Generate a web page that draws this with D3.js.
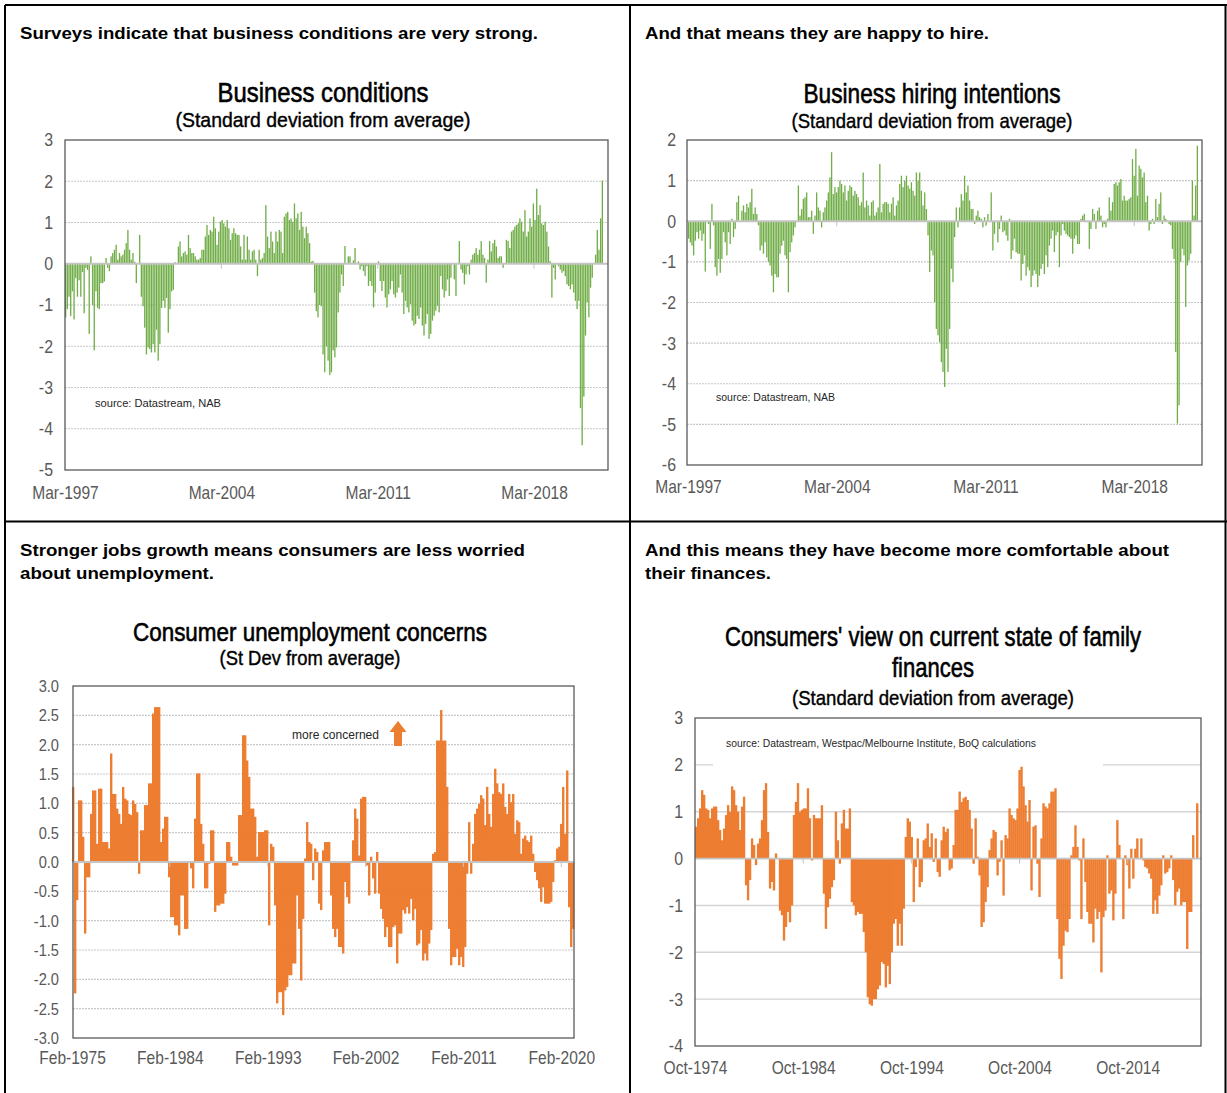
<!DOCTYPE html>
<html>
<head>
<meta charset="utf-8">
<script src="https://cdn.jsdelivr.net/npm/d3@7"></script>
<style>
  body { margin: 0; background: #fff; }
  svg { display: block; font-family: "Liberation Sans", Arial, sans-serif; }
</style>
</head>
<body>
<svg id="chart" width="1227" height="1093"></svg>
<script>
// ---- data (std dev from average) ----

var businessConditions = [
  -1.3, -1.1, -0.8, -1.27, -0.67, -1.35, -0.35, -0.8, -0.4, -0.8, -0.2, -1.2, -0.1, -0.15, -1.7, 0.18, -1.0, -2.1, -0.67, -1.07,
  -1.1, -0.47, -0.47, -0.43, 0.14, -0.1, -0.18, 0.18, 0.26, 0.34, 0.46, 0.1, 0.26, 0.18, 0.22, 0.34, 0.5, 0.82, 0.34, 0.1,
  0.26, 0.05, -0.47, 0, 0.7, -0.8, -1.03, -1.55, -2.2, -2.03, -2.07, -2.15, -1.95, -2.15, -1.6, -2.35, -1.95, -1.07, -0.9, -1.07,
  -0.83, -1.67, -1.1, -0.67, -0.63, 0.04, 0, 0.42, 0.54, 0.18, 0.26, 0.3, 0.22, 0.7, 0.38, 0.26, 0.26, 0.18, 0.1, 0.1,
  0.14, 0.34, 0.34, 0.66, 0.94, 0.7, 0.82, 0.78, 1.14, 0.86, 0.46, 0.78, 1.02, 1.06, 0.98, 0.9, 1.06, 0.86, 0.58, 0.74,
  0.86, 0.74, 0.7, 0.7, 0.42, 0.1, 0.7, 0.1, 0.66, 0.34, 0.1, 0.3, 0.34, 0.1, -0.3, 0.34, 0.1, 0.14, 0.26, 1.42,
  0.66, 0.38, 0.78, 0.54, 0.26, 0.78, 0.54, 0.82, 0.78, 0.26, 1.14, 1.22, 1.26, 1.06, 1.1, 1.02, 1.46, 1.1, 1.22, 0.82,
  1.26, 0.9, 0.62, 0.9, 0.74, 0.5, 0.05, 0.07, -0.7, -1.15, -1.3, -1.0, -1.03, -2.2, -2.63, -2.0, -2.35, -2.7, -2.63, -2.1,
  -2.27, -2.03,
  -1.18, -0.7, -0.26, -0.54, 0.43, 0, 0.18, 0.18, 0, 0.08, 0.38, 0, 0.06, -0.14, -0.06, -0.18, -0.3, -0.06, -0.54, -0.42,
  -0.54, -1.06, -0.7, 0, 0.06, -0.42, -0.66, -0.42, -0.82, -1.06, -0.74, -0.62, -0.42, -0.74, -0.82, -0.7, -0.58, -0.26, -0.7, -1.22,
  -0.9, -1.06, -1.18, -0.98, -1.38, -1.5, -1.46, -1.26, -1.34, -1.06, -1.5, -1.74, -1.46, -1.22, -1.82, -1.7, -1.38, -1.26, -1.14, -1.02,
  -1.18, -0.3, -0.62, -0.82, -0.66, -0.38, -0.78, -0.34, 0, -0.38, -0.78, 0, 0.55, -0.14, -0.22, -0.5, -0.26, -0.06, -0.26, 0.1,
  0.22, 0.26, 0.38, 0.22, 0.34, 0.55, 0.22, 0.14, -0.46, 0.1, 0.55, 0.3, 0.5, 0.58, 0.42, 0.14, 0.18, 0.18, -0.1, 0,
  0.58, 0.55, 0.38, 0.78, 0.82, 0.9, 0.94, 0.98, 1.1, 1.02, 0.78, 1.3, 0.66, 0.78, 1.1, 0.9, 1.46, 1.06, 1.82, 1.18,
  1.42, 0.98, 0.94, 1.02, 0.78, 0.42, 0.06, -0.82, -0.1, -0.38, 0, -0.06, -0.14, -0.22, -0.18, -0.3, -0.5, -0.54, -0.62, -0.5,
  -0.7, -0.9, -1.1, -0.9, -3.5, -4.4, -3.22, -1.74, -0.94, -1.3, -0.58, -0.34, 0, 0.22, 0.82, 0.34, 1.1, 2.02
];

var hiringIntentions = [
  -0.43, -0.52, -0.6, -0.84, -0.48, -0.27, -0.43, -0.23, -0.48, -0.31, -1.24, -0.02, -0.07, -0.68, 0.43, -0.1, -1.13, -1.34, -0.93, -1.27,
  -0.93, -0.27, -0.52, -0.84, -0.27, -0.56, 0.06, -0.39, -0.19, 0.47, 0.63, -0.02, 0.26, 0.39, 0.22, 0.43, 0.34, 0.47, 0.8, 0.18,
  0.34, 0.18, -0.1, -0.72, -0.6, -0.8, -0.52, -0.89, -1.0, -1.09, -1.34, -1.75, -1.3, -1.38, -1.38, -0.8, -0.6, -0.48, -0.84, -0.93,
  -1.75, -0.76, -0.52, -0.35, -0.15, -0.02, 0.88, 0.14, 0.3, 0.55, 0.59, 0.71, 0.1, 0.1, 0.26, -0.31, 0.14, 0.71, 0.34, 0.26,
  -0.15, 0.22, 0.34, 0.51, 0.71, 1.08, 1.7, 0.67, 0.84, 0.71, 0.84, 1.0, 0.92, 0.71, 0.88, 0.51, 0.75, 0.88, 0.84, 0.63,
  0.75, 0.67, 0.59, 0.39, 0.47, 1.2, 0.34, 0.51, 0.39, 0.14, 0.47, 0.51, 0.14, 0.22, 0.34, 1.41, 0.22, 0.43, 0.47, 0.47,
  0.43, 0.22, 0.43, 0.59, 0.14, 0.39, 0.51, 0.92, 1.12, 0.84, 1.0, 1.12, 0.88, 0.8, 0.96, 0.75, 0.63, 1.2, 1.0, 1.2,
  0.75, 0.39, 0.71, 0.3, -0.35, -1.25, -0.72, -0.84, -1.99, -2.65, -2.81, -2.98, -3.47, -3.71, -4.08, -3.14, -3.71, -2.65, -1.17,
  -1.5, -0.39, 0.34, -0.15, 0.34, 0.67, 0.51, 1.12, 0.71, 0.88, 0.51, 0.3, 0.3, -0.07, 0.14, 0.26, 0.1, 0.06, -0.15, 0.1,
  -0.1, 0.18, -0.02, 0.71, -0.72, -0.31, -0.02, -0.52, -0.19, 0.14, -0.27, -0.23, -0.35, -0.48, 0.06, -0.93, -0.72, -0.43, -0.76, -0.8,
  -0.8, -1.46, -1.05, -0.84, -1.34, -1.13, -1.21, -1.62, -1.34, -1.21, -1.3, -1.62, -1.34, -1.17, -1.05, -1.3, -0.84, -1.13, -0.6, -0.43,
  -0.23, -0.76, -0.35, -0.27, -1.13, -0.35, -0.07, -0.23, -0.31, -0.35, -0.39, -0.43, -0.8, -0.43, -0.35, -0.56, -0.56, 0.06, 0.14, 0.18,
  -0.02, -0.02, -0.68, -0.19, 0.3, 0.18, -0.19, 0.26, 0.34, 0.14, -0.15, -0.07, -0.15, 0.06, 0.59, 0.26, 0.47, 0.92, 0.96, 0.88,
  0.96, 1.04, 0.51, 0.63, 0.51, 0.51, 0.55, 0.59, 1.53, 1.12, 1.78, 0.63, 1.37, 1.29, 1.08, 1.2, 0.47, 0.63, -0.23, -0.07,
  0.06, -0.07, 0.55, 0.1, 0.43, 0.71, -0.07, 0.14, 0.06, 0.02, -0.07, -0.1, -0.68, -0.93, -3.22, -4.98, -4.53, -1.0, -0.68, -0.84,
  -2.11, -1.09, -0.97, -0.8, 1.0, 0.14, 0.88, 1.86
];

var unemploymentConcerns = [
  1.28, -2.24, -0.65, 1.05, 1.05, 0.43, -1.22, -0.26, -0.26, 0.82, 1.22, 1.22, 0.31, 1.25, 1.25, 0.34, 0.34, 0.34, 0.23, 1.85,
  1.16, 1.16, 0.91, 0.82, 0.65, 1.28, 1.08, 1.05, 0.82, 0.8, 1.05, 0.99, 0.85, -0.2, 0.54, 0.54, 0.97, 0.97, 1.34, 1.34,
  2.53, 2.64, 2.64, 2.64, 0.34, 0.57, 0.77, 0.77, -0.26, -0.94, -0.94, -1.08, -1.08, -1.25, -0.57, -0.57, -1.14, -1.14, 0, -0.11,
  -0.45, 0.74, 1.51, 1.51, 0.65, 0.31, -0.45, -0.45, -0.03, 0.54, 0.54, -0.85, -0.74, -0.74, -0.71, -0.71, -0.54, 0.34, 0.34, 0.09,
  -0.06, -0.06, -0.06, 0.8, 0.8, 2.16, 2.16, 1.73, 1.45, 0.91, 0.91, 0.77, 0.09, 0.51, 0.51, 0.51, 0.54, 0.54, -1.08, 0.31,
  0.26, -0.74, -2.41, -2.22, -2.22, -2.61, -2.19, -2.13, -1.93, -1.93, -1.73, -1.73, -0.57, -1.14, -2.02, -0.97, 0.06, 0.68, 0.34, 0.31,
  -0.31, 0.23, 0.17, -0.71, -0.82, 0.2,
  0.34, 0.34, 0.34, -0.57, -1.14, -1.28, -1.14, -1.45, -1.45, -1.56, -0.34, -0.6, -0.71, 0, 0.37, 0.91, 0.74, 0.11, 1.08, 1.11,
  1.11, -0.06, -0.57, 0.09, -0.28, -0.54, 0.17, -0.54, -0.8, -0.97, -1.28, -1.11, -1.45, -1.45, -1.11, -1.08, -1.73, -1.22, -1.22, -0.82,
  -0.88, -0.77, -0.88, -0.63, -0.99, -0.8, -1.42, -1.39, -1.16, -1.68, -1.56, -1.68, -1.39, -1.16, 0.14, 0.17, 2.07, 2.07, 2.59, 2.07,
  2.07, 1.28, -1.14, -1.76, -1.62, -1.62, -1.48, -1.76, -1.62, -1.79, -1.45, -0.2, 0.68, -0.2, 0.31, 0.82, 0.91, 0.99, 1.14, 1.08,
  0.63, 1.28, 0.82, 0.6, 1.16, 1.59, 1.34, 1.19, 1.16, 1.34, 0.94, 0.82, 1.16, 1.02, 1.16, 0.48, 0.71, 0.68, 0.14, 0.4,
  0.45, 0.37, 0.34, 0.45, 0.14, -0.17, -0.31, -0.45, -0.68, -0.43, -0.71, -0.71, -0.71, -0.68, -0.34, 0.03, 0.23, 0.26, 0.65, 1.28,
  0.48, 1.56, -0.77, -1.45, -1.14
];

var familyFinances = [
  0.68, 0.86, 1.07, 1.46, 1.36, 1.07, 1.04, 0.86, 1.07, 1.11, 1.11, 0.82, 0.61, 0.39, 0.64, 0.93, 1.14, 1.0, 1.54, 1.46,
  1.14, 1.0, 0.61, 1.11, 1.32, -0.57, -0.89, -0.46, 0.43, 0.29, -0.14, 0.32, 0.43, 0.82, 1.46, 1.61, 0.57, -0.64, -0.5, -0.68,
  0.11, 0, -1.11, -1.21, -1.75, -1.46, -1.14, -1.36, -1.0, 0.93, 1.21, 1.61, 1.0, 1.04, 1.07, 1.07, 1.5, 0.86, -0.04, 0.93,
  0.86, 0.86, 0.86, 1.14, -0.75, -1.5, -1.04, -0.86, -0.61, -0.46, 1.0, 0.39, -0.11, 0.75, 1.04, 0.64, 0.64, 1.07, -0.93, -1.0,
  -1.21, -1.14, -1.18, -1.18, -1.57, -2.0, -2.96, -3.11, -3.14, -3.0, -3.0, -2.79, -2.71, -2.21, -2.25, -2.75, -2.29, -2.68, -2.0, -1.39,
  -1.29, -1.86, -1.39, -1.86, -1.07, 0.46, 0.86, 0.79, 0.46, -0.93, -0.18, 0.43, -0.61, -0.5, 0.39, 0.43, 0.75, 0.25, 0.54, -0.07,
  0.43, -0.29, -0.39, 0.39, 0.68, 0.57, 0.64, -0.25,
  -0.21, 0.29, 1.04, 1.04, 1.43, 1.21, 1.29, 1.32, 1.25, 1.04, 0.64, -0.11, 0.86, 0.04, -0.36, -1.46, -1.36, -0.93, -0.61, 0.18,
  0.43, 0.61, 0.57, -0.36, -0.07, 0.39, -0.79, 0.5, 0.43, 1.07, 0.93, 0.86, 0.82, 1.07, 1.89, 1.96, 1.54, 1.14, 0.79, 1.25,
  -0.68, 0.68, 0.71, -0.11, -0.82, 0.43, 1.18, 1.11, 1.07, 1.18, 1.43, 1.43, 1.5, -1.29, -2.14, -2.57, -1.86, -1.54, -1.57, -1.29,
  0.07, 0.25, 0.71, 0.25, -0.04, -1.29, 0.43, -0.5, -1.14, -1.39, -1.39, -1.79, -1.07, -1.29, -1.14, -2.43, -1.25, -1.11, 0.07, -0.75,
  -0.68, -1.32, -0.75, 0.82, 0.29, 0, -1.29, 0.07, -0.14, -0.64, 0.21, -0.43, 0.21, 0.43, 0, 0.43, -0.04, -0.18, -0.21, -0.32,
  -0.43, -1.18, -0.89, -1.18, -0.79, -0.57, 0.07, -0.32, -0.29, -0.21, 0.07, -0.46, -1.0, -0.71, -0.64, -1.0, -0.93, -0.93, -1.93, -1.14,
  -1.14, 0.5, 0, 1.18
];

// date span each series covers, and the x tick labels
var bizPeriod = ["Mar-1997", "Apr-2021"];
var hirePeriod = ["Mar-1997", "Mar-2021"];
var unempPeriod = ["Feb-1975", "Apr-2021"];
var financePeriod = ["Oct-1974", "Apr-2021"];
var bizDateLabels = ["Mar-1997", "Mar-2004", "Mar-2011", "Mar-2018"];
var unempDateLabels = ["Feb-1975", "Feb-1984", "Feb-1993", "Feb-2002", "Feb-2011", "Feb-2020"];
var financeDateLabels = ["Oct-1974", "Oct-1984", "Oct-1994", "Oct-2004", "Oct-2014"];

var condTicks = [-5, -4, -3, -2, -1, 0, 1, 2, 3];
var hiringTicks = [-6, -5, -4, -3, -2, -1, 0, 1, 2];
var unempTicks = [-3, -2.5, -2, -1.5, -1, -0.5, 0, 0.5, 1, 1.5, 2, 2.5, 3];
var financeTicks = [-4, -3, -2, -1, 0, 1, 2, 3];

var green = "#70AD47", orange = "#ED7D31", axisGrey = "#595959";

var svg = d3.select("#chart");
var parseMonth = d3.timeParse("%b-%Y");
// plain hyphen minus, like the original (d3.format would give U+2212)
var intFmt = function(d) { return d.toFixed(0); };
var oneDp = function(d) { return d.toFixed(1); };

// squeeze text sideways, gives the Arial Narrow look of the original
function narrow(sel, k) {
  sel.each(function() {
    var w = this.getComputedTextLength();
    d3.select(this).attr("textLength", w * k).attr("lengthAdjust", "spacingAndGlyphs");
  });
}

function label(str, x, y, o) {
  var t = svg.append("text")
      .attr("x", x).attr("y", y)
      .attr("font-size", o.size)
      .attr("font-weight", o.bold ? "bold" : null)
      .attr("text-anchor", o.anchor || "start")
      .attr("fill", o.fill || "#000")
      .text(str);
  if (o.heavy) t.attr("stroke", o.fill || "#000").attr("stroke-width", o.heavy);
  if (o.width) t.attr("textLength", o.width).attr("lengthAdjust", "spacingAndGlyphs");
  return t;
}

var panels = [
  { values: businessConditions, ticks: condTicks, period: bizPeriod, dates: bizDateLabels, color: green,
    box: {x0: 65, x1: 608, y0: 140, y1: 470}, span: [65, 603], fmt: intFmt, pad: 0.22,
    yGap: 12, xLabY: 493, ySize: 18.5,
    source: {text: "source:  Datastream, NAB", x: 95, y: 407, w: 126} },
  { values: hiringIntentions, ticks: hiringTicks, period: hirePeriod, dates: bizDateLabels, color: green,
    box: {x0: 687, x1: 1202, y0: 140, y1: 465}, span: [688, 1198], fmt: intFmt, pad: 0.22,
    yGap: 11, xLabY: 487, ySize: 18.5,
    source: {text: "source:  Datastream, NAB", x: 716, y: 401, w: 119} },
  { values: unemploymentConcerns, ticks: unempTicks, period: unempPeriod, dates: unempDateLabels, color: orange,
    box: {x0: 73, x1: 574, y0: 686, y1: 1038}, span: [72, 574], fmt: oneDp, pad: 0.02,
    yGap: 14, xLabY: 1058, ySize: 17 },
  { values: familyFinances, ticks: financeTicks, period: financePeriod, dates: financeDateLabels, color: orange,
    box: {x0: 695, x1: 1201, y0: 718, y1: 1046}, span: [695, 1198], fmt: intFmt, pad: 0.02,
    yGap: 12, xLabY: 1068, ySize: 18.5, solidGrid: true,
    source: {text: "source:  Datastream, Westpac/Melbourne  Institute, BoQ calculations", x: 726, y: 747, w: 310, mask: [713, 733, 390, 37]} }
];

panels.forEach(function(p) {
  var b = p.box;
  var g = svg.append("g");

  var y = d3.scaleLinear()
      .domain(d3.extent(p.ticks))
      .range([b.y1, b.y0]);
  var x = d3.scaleBand()
      .domain(d3.range(p.values.length))
      .range(p.span)
      .paddingInner(p.pad);
  var xt = d3.scaleTime()
      .domain(p.period.map(parseMonth))
      .range(p.span);

  // gridlines
  g.selectAll(".grid")
      .data(p.ticks.filter(function(t) { return t !== 0 && t > y.domain()[0] && t < y.domain()[1]; }))
      .enter().append("line")
      .attr("x1", b.x0).attr("x2", b.x1)
      .attr("y1", function(d) { return y(d); })
      .attr("y2", function(d) { return y(d); })
      .attr("stroke", p.solidGrid ? "#d4d4d4" : "#c8c8c8")
      .attr("stroke-width", p.solidGrid ? 1.4 : 1.2)
      .attr("stroke-dasharray", p.solidGrid ? null : "2,1");

  if (p.source && p.source.mask) {
    var m = p.source.mask;
    g.append("rect").attr("x", m[0]).attr("y", m[1]).attr("width", m[2]).attr("height", m[3]).attr("fill", "#fff");
  }

  // bars
  g.selectAll(".bar")
      .data(p.values)
      .enter().append("rect")
      .attr("x", function(d, i) { return x(i); })
      .attr("width", x.bandwidth() + (p.pad < 0.1 ? 0.4 : 0))
      .attr("y", function(d) { return y(Math.max(0, d)); })
      .attr("height", function(d) { return Math.abs(y(d) - y(0)); })
      .attr("fill", p.color);

  // zero line with small date marks
  g.append("line")
      .attr("x1", b.x0).attr("x2", b.x1)
      .attr("y1", y(0)).attr("y2", y(0))
      .attr("stroke", "#c4c4c4").attr("stroke-width", 1.8);
  g.selectAll(".zt")
      .data(p.dates.slice(1).map(parseMonth))
      .enter().append("line")
      .attr("x1", function(d) { return xt(d); }).attr("x2", function(d) { return xt(d); })
      .attr("y1", y(0)).attr("y2", y(0) + 5)
      .attr("stroke", "#c4c4c4").attr("stroke-width", 1);

  // plot frame
  g.append("rect")
      .attr("x", b.x0).attr("y", b.y0)
      .attr("width", b.x1 - b.x0).attr("height", b.y1 - b.y0)
      .attr("fill", "none").attr("stroke", axisGrey).attr("stroke-width", 1.3);

  // y axis labels
  var ya = g.append("g")
      .attr("transform", "translate(" + b.x0 + ",0)")
      .call(d3.axisLeft(y).tickValues(p.ticks).tickSize(0).tickPadding(p.yGap).tickFormat(p.fmt));
  ya.select(".domain").remove();
  ya.selectAll("text")
      .attr("font-family", null)
      .attr("font-size", p.ySize)
      .attr("fill", axisGrey)
      .call(narrow, 0.86);

  // x axis labels
  var xa = g.append("g")
      .attr("transform", "translate(0," + p.xLabY + ")")
      .call(d3.axisBottom(xt).tickValues(p.dates.map(parseMonth)).tickSize(0).tickPadding(0)
        .tickFormat(d3.timeFormat("%b-%Y")));
  xa.select(".domain").remove();
  xa.selectAll("text")
      .attr("y", 0).attr("dy", "0.35em")
      .attr("font-family", null)
      .attr("font-size", 18.5)
      .attr("fill", axisGrey)
      .call(narrow, 0.84);

  if (p.source) {
    label(p.source.text, p.source.x, p.source.y, {size: 11, width: p.source.w, fill: "#262626"});
  }
});

// "more concerned" note with arrow
label("more concerned", 292, 739, {size: 13, width: 87, fill: "#262626"});
svg.append("path")
    .attr("d", d3.line()([[394, 746], [402, 746], [402, 732], [406.5, 732], [398, 721], [389.5, 732], [394, 732]]) + "Z")
    .attr("fill", orange);

// panel headings
label("Surveys indicate that business conditions are very strong.", 20, 39, {size: 16, bold: true, width: 518});
label("And that means they are happy to hire.", 645, 39, {size: 16, bold: true, width: 344});
label("Stronger jobs growth means consumers are less worried", 20, 556, {size: 16, bold: true, width: 505});
label("about unemployment.", 20, 579, {size: 16, bold: true, width: 194});
label("And this means they have become more comfortable about", 645, 556, {size: 16, bold: true, width: 524});
label("their finances.", 645, 579, {size: 16, bold: true, width: 126});

// chart titles
label("Business conditions", 323, 102, {size: 28, anchor: "middle", width: 211, heavy: 0.6});
label("(Standard deviation from average)", 323, 127, {size: 21, anchor: "middle", width: 295, heavy: 0.4});
label("Business hiring intentions", 932, 103, {size: 28, anchor: "middle", width: 257, heavy: 0.6});
label("(Standard deviation from average)", 932, 128, {size: 21, anchor: "middle", width: 281, heavy: 0.4});
label("Consumer unemployment concerns", 310, 641, {size: 26, anchor: "middle", width: 354, heavy: 0.6});
label("(St Dev from average)", 310, 665, {size: 20, anchor: "middle", width: 181, heavy: 0.4});
// long title squeezed with a transform rather than textLength
label("Consumers' view on current state of family", 0, 0, {size: 27, anchor: "middle", heavy: 0.6})
    .attr("transform", "translate(933,646) scale(0.82,1)");
label("finances", 933, 677, {size: 28, anchor: "middle", width: 82, heavy: 0.6});
label("(Standard deviation from average)", 933, 705, {size: 21, anchor: "middle", width: 282, heavy: 0.4});

// outer frame and dividers
var frame = [[5, 5, 1227, 5], [5, 5, 5, 1093], [630, 5, 630, 1093], [5, 521.5, 1227, 521.5], [1225.5, 5, 1225.5, 1093]];
svg.selectAll(".frame")
    .data(frame)
    .enter().append("line")
    .attr("x1", function(d) { return d[0]; }).attr("y1", function(d) { return d[1]; })
    .attr("x2", function(d) { return d[2]; }).attr("y2", function(d) { return d[3]; })
    .attr("stroke", "#000").attr("stroke-width", 2);
</script>
</body>
</html>
